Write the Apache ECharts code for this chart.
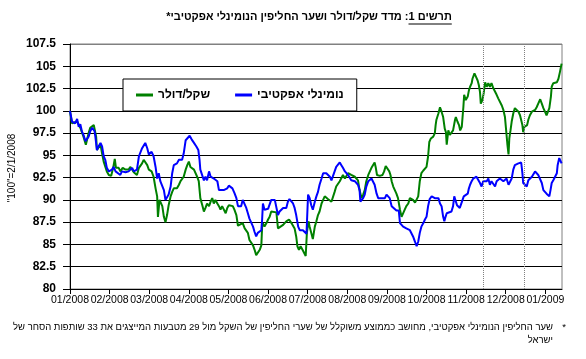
<!DOCTYPE html>
<html><head><meta charset="utf-8">
<script src="https://cdn.jsdelivr.net/npm/echarts@6/dist/echarts.min.js"></script>
<style>html,body{margin:0;padding:0;background:#fff}#c{width:586px;height:359px}</style>
</head><body><div id="c"></div>
<script>
// time in months since start of 01/2008
const tickLabels = ['01/2008','02/2008','03/2008','04/2008','05/2008','06/2008','07/2008','08/2008','09/2008','10/2008','11/2008','12/2008','01/2009'];
const seriesNames = ['שקל/דולר', 'נומינלי אפקטיבי'];
const markerTimes = [10.42, 11.47];

const greenT = [0,0.05,0.09,0.18,0.26,0.34,0.40,0.47,0.51,0.60,0.64,0.66,0.68,0.77,0.81,0.85,0.89,0.93,0.98,1.04,1.09,1.13,1.16,1.23,1.27,1.33,1.40,1.48,1.52,1.57,1.61,1.65,1.69,1.74,1.82,1.86,1.90,1.95,1.99,2.06,2.11,2.16,2.20,2.22,2.26,2.28,2.33,2.37,2.41,2.45,2.49,2.54,2.58,2.62,2.66,2.70,2.75,2.79,2.83,2.87,2.92,2.96,3.00,3.04,3.08,3.13,3.17,3.21,3.25,3.29,3.34,3.38,3.42,3.46,3.51,3.55,3.59,3.63,3.67,3.72,3.76,3.80,3.84,3.88,3.93,3.97,4.01,4.05,4.11,4.15,4.20,4.24,4.28,4.36,4.41,4.49,4.53,4.62,4.66,4.70,4.74,4.79,4.83,4.85,4.87,4.91,4.96,5.00,5.04,5.08,5.12,5.21,5.25,5.29,5.38,5.46,5.53,5.59,5.67,5.71,5.74,5.78,5.82,5.87,5.91,5.95,5.98,6.02,6.05,6.09,6.13,6.18,6.22,6.26,6.30,6.35,6.39,6.43,6.47,6.51,6.56,6.60,6.64,6.68,6.72,6.77,6.81,6.85,6.89,6.94,6.98,7.02,7.06,7.10,7.15,7.19,7.23,7.27,7.31,7.36,7.40,7.44,7.48,7.53,7.57,7.61,7.65,7.69,7.72,7.75,7.82,7.89,7.93,7.97,8.01,8.06,8.09,8.12,8.16,8.20,8.24,8.28,8.33,8.37,8.41,8.45,8.49,8.54,8.58,8.62,8.66,8.71,8.75,8.79,8.83,8.87,8.92,9.00,9.04,9.07,9.11,9.17,9.21,9.23,9.25,9.30,9.34,9.38,9.42,9.46,9.49,9.51,9.55,9.59,9.63,9.67,9.72,9.74,9.78,9.82,9.85,9.89,9.93,9.95,9.99,10.04,10.07,10.10,10.14,10.16,10.21,10.25,10.29,10.32,10.35,10.37,10.41,10.44,10.48,10.52,10.56,10.60,10.64,10.69,10.73,10.77,10.81,10.85,10.90,10.94,10.98,11.01,11.04,11.07,11.09,11.12,11.15,11.19,11.23,11.28,11.32,11.36,11.39,11.42,11.44,11.47,11.50,11.54,11.57,11.61,11.66,11.70,11.74,11.78,11.82,11.87,11.91,11.95,11.99,12.03,12.08,12.10,12.14,12.16,12.20,12.25,12.29,12.33,12.37,12.41];
const greenV = [100.0,98.6,98.8,98.8,98.1,97.1,96.2,97.5,98.1,98.4,98.2,97.1,95.6,96.2,95.2,94.3,94.1,93.2,92.8,92.7,93.6,94.6,93.6,93.6,93.2,93.6,93.4,93.4,93.7,93.4,93.1,93.0,92.8,93.6,94.1,94.5,94.7,93.9,93.4,93.2,92.6,91.3,90.4,88.1,90.0,89.8,89.3,88.1,87.5,88.3,89.4,90.4,90.9,91.3,91.1,91.3,91.7,92.1,92.2,92.6,93.4,93.9,94.3,93.7,93.9,93.4,93.2,92.6,92.1,90.2,89.4,88.7,89.1,89.6,89.3,89.8,90.2,89.6,90.0,89.6,89.3,88.9,89.3,89.1,88.5,89.1,89.4,89.6,89.3,88.9,88.3,87.1,87.2,87.4,86.8,86.3,85.5,84.9,84.4,83.8,84.0,84.4,84.9,87.0,87.4,87.0,87.4,87.8,88.1,88.7,88.7,88.6,86.8,87.0,87.2,87.6,87.8,87.4,86.8,85.9,84.8,84.4,84.8,84.4,84.2,83.7,86.3,87.6,87.0,86.3,85.6,87.0,87.6,88.3,88.7,89.6,90.0,90.4,90.2,90.1,90.0,89.8,90.0,90.9,91.5,91.7,92.1,92.2,92.8,92.4,92.6,93.0,92.9,92.8,92.6,92.6,92.5,92.2,91.1,90.2,90.6,91.1,92.1,92.8,93.2,93.6,93.7,94.2,93.6,92.8,92.7,92.8,93.2,93.8,93.6,93.2,92.8,92.1,91.5,91.1,90.7,90.2,88.9,88.1,88.3,88.9,89.3,89.6,90.2,90.4,90.0,89.7,89.7,90.4,92.1,93.0,93.3,93.7,94.9,96.5,96.9,97.1,97.5,98.4,99.0,99.7,100.4,99.9,99.3,98.0,97.6,96.2,97.8,97.3,97.5,97.8,99.0,99.3,98.8,98.4,97.8,98.2,100.4,101.8,101.2,101.6,102.3,102.7,103.1,103.6,104.2,103.8,103.4,102.9,102.1,100.8,101.2,101.9,103.2,102.7,103.1,102.7,103.1,102.5,102.3,101.8,101.4,101.2,100.6,100.1,99.3,97.8,96.3,95.1,96.9,97.8,98.8,99.7,100.3,100.1,99.9,99.5,99.7,98.4,97.6,98.2,98.0,98.4,99.0,99.5,99.9,99.9,100.1,100.4,100.8,101.3,100.8,100.3,99.9,99.5,99.4,100.3,101.6,102.7,103.1,103.2,103.2,103.6,104.4,105.3];

const blueT = [0,0.05,0.09,0.13,0.18,0.22,0.26,0.30,0.34,0.39,0.43,0.47,0.51,0.56,0.62,0.64,0.68,0.72,0.77,0.81,0.85,0.89,0.93,0.98,1.06,1.10,1.15,1.19,1.27,1.31,1.40,1.48,1.57,1.61,1.69,1.74,1.82,1.90,1.95,1.99,2.06,2.11,2.16,2.20,2.24,2.28,2.33,2.37,2.41,2.45,2.49,2.54,2.58,2.62,2.70,2.75,2.79,2.83,2.87,2.92,2.96,3.02,3.07,3.13,3.19,3.24,3.27,3.29,3.34,3.38,3.42,3.46,3.51,3.55,3.59,3.63,3.72,3.76,3.80,3.88,3.97,4.01,4.05,4.10,4.15,4.20,4.24,4.32,4.36,4.41,4.45,4.49,4.53,4.58,4.62,4.66,4.70,4.74,4.79,4.83,4.85,4.87,4.91,4.96,5.00,5.04,5.08,5.12,5.17,5.21,5.25,5.29,5.33,5.38,5.46,5.50,5.54,5.59,5.63,5.67,5.71,5.76,5.80,5.84,5.88,5.92,5.97,6.01,6.05,6.09,6.13,6.18,6.22,6.26,6.30,6.35,6.39,6.43,6.47,6.51,6.56,6.60,6.64,6.68,6.72,6.77,6.81,6.85,6.89,6.94,6.98,7.02,7.06,7.10,7.15,7.19,7.23,7.27,7.31,7.33,7.36,7.40,7.44,7.48,7.53,7.57,7.61,7.65,7.69,7.74,7.78,7.86,7.95,7.99,8.03,8.07,8.12,8.16,8.24,8.30,8.33,8.37,8.41,8.45,8.49,8.54,8.58,8.62,8.66,8.71,8.75,8.79,8.83,8.87,8.92,8.96,9.00,9.04,9.08,9.13,9.17,9.21,9.25,9.30,9.34,9.38,9.42,9.45,9.48,9.51,9.55,9.63,9.67,9.70,9.73,9.77,9.80,9.84,9.89,9.91,9.94,9.99,10.04,10.07,10.10,10.14,10.18,10.22,10.26,10.31,10.35,10.39,10.43,10.48,10.52,10.56,10.60,10.64,10.69,10.73,10.77,10.81,10.85,10.90,10.94,10.98,11.02,11.07,11.11,11.15,11.19,11.23,11.28,11.32,11.39,11.42,11.44,11.49,11.53,11.57,11.61,11.66,11.70,11.74,11.78,11.82,11.87,11.91,11.95,11.99,12.03,12.08,12.10,12.13,12.16,12.20,12.25,12.29,12.31,12.35,12.37,12.41];
const blueV = [100.0,98.8,99.0,98.6,99.1,98.2,98.5,97.7,97.3,96.6,96.7,97.1,97.7,98.1,97.7,97.1,95.6,96.0,96.4,96.0,94.9,94.5,93.6,93.2,93.4,93.7,93.2,93.0,92.8,93.2,93.1,93.2,93.6,93.2,93.4,94.9,95.8,96.4,95.8,95.1,95.4,94.9,93.7,92.4,93.0,92.1,92.2,91.1,90.0,90.2,90.6,91.5,93.0,93.9,94.1,94.5,94.7,94.5,95.2,96.7,96.9,97.2,96.8,96.4,96.0,95.6,94.5,93.4,93.2,92.2,92.6,92.2,93.2,92.6,92.8,92.4,92.1,91.1,91.3,91.1,91.3,91.6,91.5,91.3,90.8,90.2,89.3,89.3,90.0,89.8,89.1,88.5,87.9,87.8,87.0,86.4,85.9,86.3,86.4,86.6,87.8,89.6,88.9,89.1,89.0,89.1,90.0,90.2,90.0,90.2,88.3,88.7,88.9,89.1,89.1,89.8,90.1,90.0,89.6,89.1,88.3,87.0,86.6,86.8,86.6,86.4,86.2,90.6,90.2,89.4,88.9,89.8,90.4,90.9,91.7,92.4,93.0,93.1,93.0,92.8,92.6,92.2,92.4,93.2,93.7,93.9,94.2,93.9,93.6,93.2,93.1,92.8,92.6,92.2,92.1,92.1,91.9,91.7,91.1,89.8,90.0,90.2,90.6,91.5,92.1,92.2,92.4,92.2,91.7,90.7,90.2,90.2,90.2,90.6,90.4,90.2,89.3,89.1,88.8,88.8,87.4,87.2,87.0,87.1,86.8,86.8,86.6,86.5,85.9,85.3,84.8,85.3,86.3,87.0,87.4,87.8,88.1,89.3,90.1,90.4,90.4,90.2,90.0,90.2,89.6,89.3,88.1,87.6,88.1,88.5,88.7,88.7,89.3,90.4,90.4,89.4,89.3,89.1,89.3,90.0,90.4,90.6,90.7,91.3,91.7,92.1,92.4,92.2,92.6,92.4,91.9,91.5,92.1,92.2,92.1,92.4,91.7,92.1,91.9,91.5,92.1,92.2,92.4,92.2,92.1,92.1,92.4,91.7,91.9,92.4,93.4,93.9,94.1,94.1,94.2,93.0,91.9,92.1,91.5,92.2,92.4,92.6,92.8,93.2,93.0,92.8,92.6,91.9,91.1,90.9,90.7,90.6,90.4,91.1,91.9,92.2,92.4,93.0,93.9,94.7,94.5,94.1];

const titleMain = 'תרשים 1: מדד שקל/דולר ושער החליפין הנומינלי אפקטיבי*';
const titleUnderlined = 'תרשים 1';
const yName = '"100"=2/1/2008';
const note1 = 'שער החליפין הנומינלי אפקטיבי, מחושב כממוצע משוקלל של שערי החליפין של השקל מול 29 מטבעות המייצגים את 33 שותפות הסחר של';
const note2 = 'ישראל';

const RLM = '\u200F';
const titleFont = "bold 11px 'Liberation Sans', Arial, sans-serif";
const noteFont = "9.5px 'Liberation Sans', Arial, sans-serif";
const mctx = document.createElement('canvas').getContext('2d');
mctx.font = titleFont;
const titleW = mctx.measureText(titleMain).width;
const ulW = mctx.measureText(titleUnderlined).width;
const titleCX = 309, titleY = 17;

const zip = (t, v) => t.map((x, i) => [x, v[i]]);
const months = tickLabels.map((_, i) => i);
const gridColors = [];
for (let i = 0; i < 11; i++) gridColors.push('#000');
gridColors.push('#808080');

const chart = echarts.init(document.getElementById('c'), null, {renderer: 'canvas'});
chart.setOption({
  animation: false,
  backgroundColor: '#fff',
  grid: {left: 70, right: 24, top: 44, bottom: 70, show: true, borderColor: '#808080', borderWidth: 1, backgroundColor: 'transparent'},
  legend: {
    left: 123, top: 79, orient: 'horizontal',
    data: seriesNames,
    backgroundColor: '#fff', borderColor: '#000', borderWidth: 1, borderRadius: 0,
    padding: [10, 13, 10, 13], itemGap: 25, itemWidth: 17, itemHeight: 3, icon: 'rect',
    textStyle: {fontFamily: "'Liberation Sans', Arial, sans-serif", fontWeight: 'bold', fontSize: 12, color: '#000'},
    selectedMode: false
  },
  xAxis: {
    type: 'value', min: 0, max: 12.42,
    axisLine: {lineStyle: {color: '#000', width: 1}},
    axisTick: {show: true, length: 5, lineStyle: {color: '#000'}, customValues: months},
    axisLabel: {customValues: months, formatter: v => tickLabels[Math.round(v)], color: '#000', fontSize: 10.5, fontFamily: "'Liberation Sans', Arial, sans-serif", margin: 6},
    splitLine: {show: false}
  },
  yAxis: {
    type: 'value', min: 80, max: 107.5, interval: 2.5,
    axisLine: {show: true, lineStyle: {color: '#000', width: 1}},
    axisTick: {show: true, length: 7, lineStyle: {color: '#000'}},
    axisLabel: {color: '#000', fontSize: 12, fontWeight: 'bold', fontFamily: "'Liberation Sans', Arial, sans-serif", margin: 14},
    splitLine: {show: true, lineStyle: {color: gridColors, width: 1}}
  },
  series: [
    {name: seriesNames[0], type: 'line', data: zip(greenT, greenV), showSymbol: false, symbol: 'none',
     lineStyle: {color: '#008000', width: 2}, itemStyle: {color: '#008000'},
     markLine: {silent: true, symbol: ['none', 'none'], label: {show: false},
       lineStyle: {type: 'dotted', color: '#808080', width: 1},
       data: markerTimes.map(t => ({xAxis: t}))}},
    {name: seriesNames[1], type: 'line', data: zip(blueT, blueV), showSymbol: false, symbol: 'none',
     lineStyle: {color: '#0000ff', width: 2}, itemStyle: {color: '#0000ff'}}
  ],
  graphic: [
    {type: 'text', x: titleCX, y: titleY, style: {text: RLM + titleMain + RLM, font: titleFont, fill: '#000', textAlign: 'center', textVerticalAlign: 'middle'}},
    {type: 'line', shape: {x1: titleCX + titleW / 2 - ulW, y1: titleY + 7, x2: titleCX + titleW / 2, y2: titleY + 7}, style: {stroke: '#000', lineWidth: 1}},
    {type: 'text', x: 12, y: 168, rotation: Math.PI / 2, style: {text: yName, font: "10px 'Liberation Sans', Arial, sans-serif", fill: '#000', textAlign: 'center', textVerticalAlign: 'middle'}},
    {type: 'text', x: 564, y: 327, style: {text: '*', font: noteFont, fill: '#000', textAlign: 'center', textVerticalAlign: 'middle'}},
    {type: 'text', x: 553, y: 327, style: {text: RLM + note1 + RLM, font: noteFont, fill: '#000', textAlign: 'right', textVerticalAlign: 'middle'}},
    {type: 'text', x: 553, y: 340, style: {text: RLM + note2 + RLM, font: noteFont, fill: '#000', textAlign: 'right', textVerticalAlign: 'middle'}}
  ]
});
</script></body></html>
